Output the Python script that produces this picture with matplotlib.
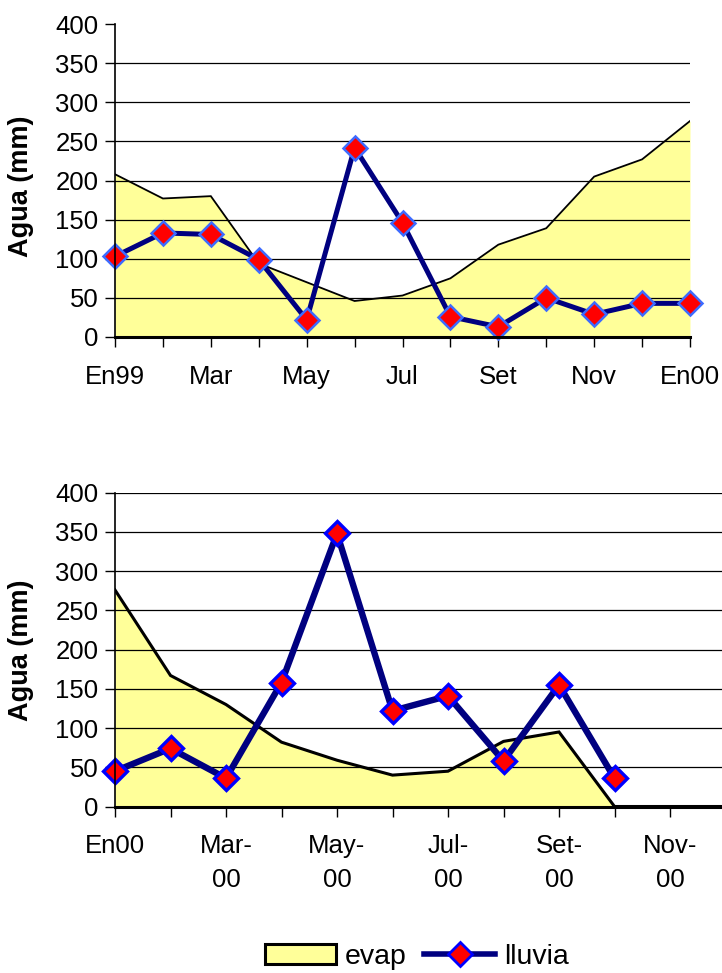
import matplotlib
matplotlib.use("Agg")
import matplotlib.pyplot as plt
from matplotlib.lines import Line2D
from matplotlib.patches import Patch

plt.rcParams['font.family'] = ['Liberation Sans', 'DejaVu Sans']

# ---- data ----
top_cats = ['En99', 'Feb', 'Mar', 'Abr', 'May', 'Jun', 'Jul', 'Ago', 'Set', 'Oct', 'Nov', 'Dic', 'En00']
top_ticklabels = ['En99', '', 'Mar', '', 'May', '', 'Jul', '', 'Set', '', 'Nov', '', 'En00']
evap_99 = [208, 177, 180, 94, 70, 46, 53, 75, 118, 139, 205, 227, 276]
lluvia_99 = [103, 133, 131, 99, 22, 242, 146, 26, 13, 50, 29, 43, 43]

bot_cats = ['En00', 'Feb', 'Mar', 'Abr', 'May', 'Jun', 'Jul', 'Ago', 'Set', 'Oct', 'Nov', 'Dic']
bot_ticklabels = ['En00', '', 'Mar-\n00', '', 'May-\n00', '', 'Jul-\n00', '', 'Set-\n00', '', 'Nov-\n00', '']
evap_00 = [276, 167, 130, 82, 59, 40, 45, 83, 95, 0, 0, 0]
lluvia_00 = [45, 74, 36, 158, 348, 122, 141, 58, 155, 36]

y_ticks = [0, 50, 100, 150, 200, 250, 300, 350, 400]

W, H = 722, 973
fig = plt.figure(figsize=(W / 100, H / 100), dpi=100)

FS = 18.5
YELLOW = '#FFFF99'
NAVY = '#000080'


def make_axes(rect, cats, ticklabels, evap, lluvia, grid_levels, evap_lw, ll_lw, mk_edge, mk_ew):
    ax = fig.add_axes(rect)
    x = list(range(len(cats)))
    ax.fill_between(x, evap, 0, color=YELLOW, lw=0, zorder=1)
    ax.plot(x, evap, color='black', lw=evap_lw, zorder=3, solid_joinstyle='miter')
    for g in grid_levels:
        ax.axhline(g, color='black', lw=0.9, zorder=2)
    xl = list(range(len(lluvia)))
    ax.plot(xl, lluvia, color=NAVY, lw=ll_lw, marker='D', ms=12.5,
            mfc='#FF0000', mec=mk_edge, mew=mk_ew, zorder=4, clip_on=False)
    ax.set_xlim(0, len(cats) - 1)
    ax.set_ylim(0, 400)
    ax.set_yticks(y_ticks)
    ax.set_yticklabels([str(v) for v in y_ticks], fontsize=FS)
    ax.set_xticks(x)
    ax.set_xticklabels(ticklabels, fontsize=FS, linespacing=1.5, va='top')
    ax.tick_params(axis='y', length=7, width=1, pad=5, direction='out')
    ax.tick_params(axis='x', length=7, width=1, pad=13, direction='out')
    for s in ['top', 'right']:
        ax.spines[s].set_visible(False)
    ax.spines['left'].set_linewidth(1.2)
    ax.spines['bottom'].set_linewidth(2.2)
    ax.spines['left'].set_zorder(5)
    ax.spines['bottom'].set_zorder(5)
    ax.patch.set_alpha(0)
    return ax


ax1 = make_axes([115 / W, 1 - 337 / H, 575 / W, 313 / H], top_cats, top_ticklabels,
                evap_99, lluvia_99, [50, 100, 150, 200, 250, 300, 350], 1.3, 3.6, '#3D6BFF', 1.8)
ax2 = make_axes([115 / W, 1 - 806.5 / H, 610.5 / W, 313.8 / H], bot_cats, bot_ticklabels,
                evap_00, lluvia_00, [50, 100, 150, 200, 250, 300, 350, 400], 2.2, 4.6, '#0000FF', 2.4)

fig.text(21 / W, 1 - 186 / H, 'Agua (mm)', rotation=90, fontsize=19.5, fontweight='bold',
         ha='center', va='center')
fig.text(21 / W, 1 - 650 / H, 'Agua (mm)', rotation=90, fontsize=19.5, fontweight='bold',
         ha='center', va='center')

handles = [Patch(facecolor=YELLOW, edgecolor='black', lw=2.2),
           Line2D([], [], color=NAVY, lw=4, marker='D', ms=12, mfc='#FF0000',
                  mec='#0000FF', mew=2)]
fig.legend(handles, ['evap', 'lluvia'], loc='center', bbox_to_anchor=(417 / W, 1 - 957 / H),
           ncol=2, frameon=False, fontsize=20.5, handlelength=2.5, handleheight=0.68,
           handletextpad=0.32, columnspacing=0.6, borderpad=0)

fig.savefig('out.png', dpi=100)
